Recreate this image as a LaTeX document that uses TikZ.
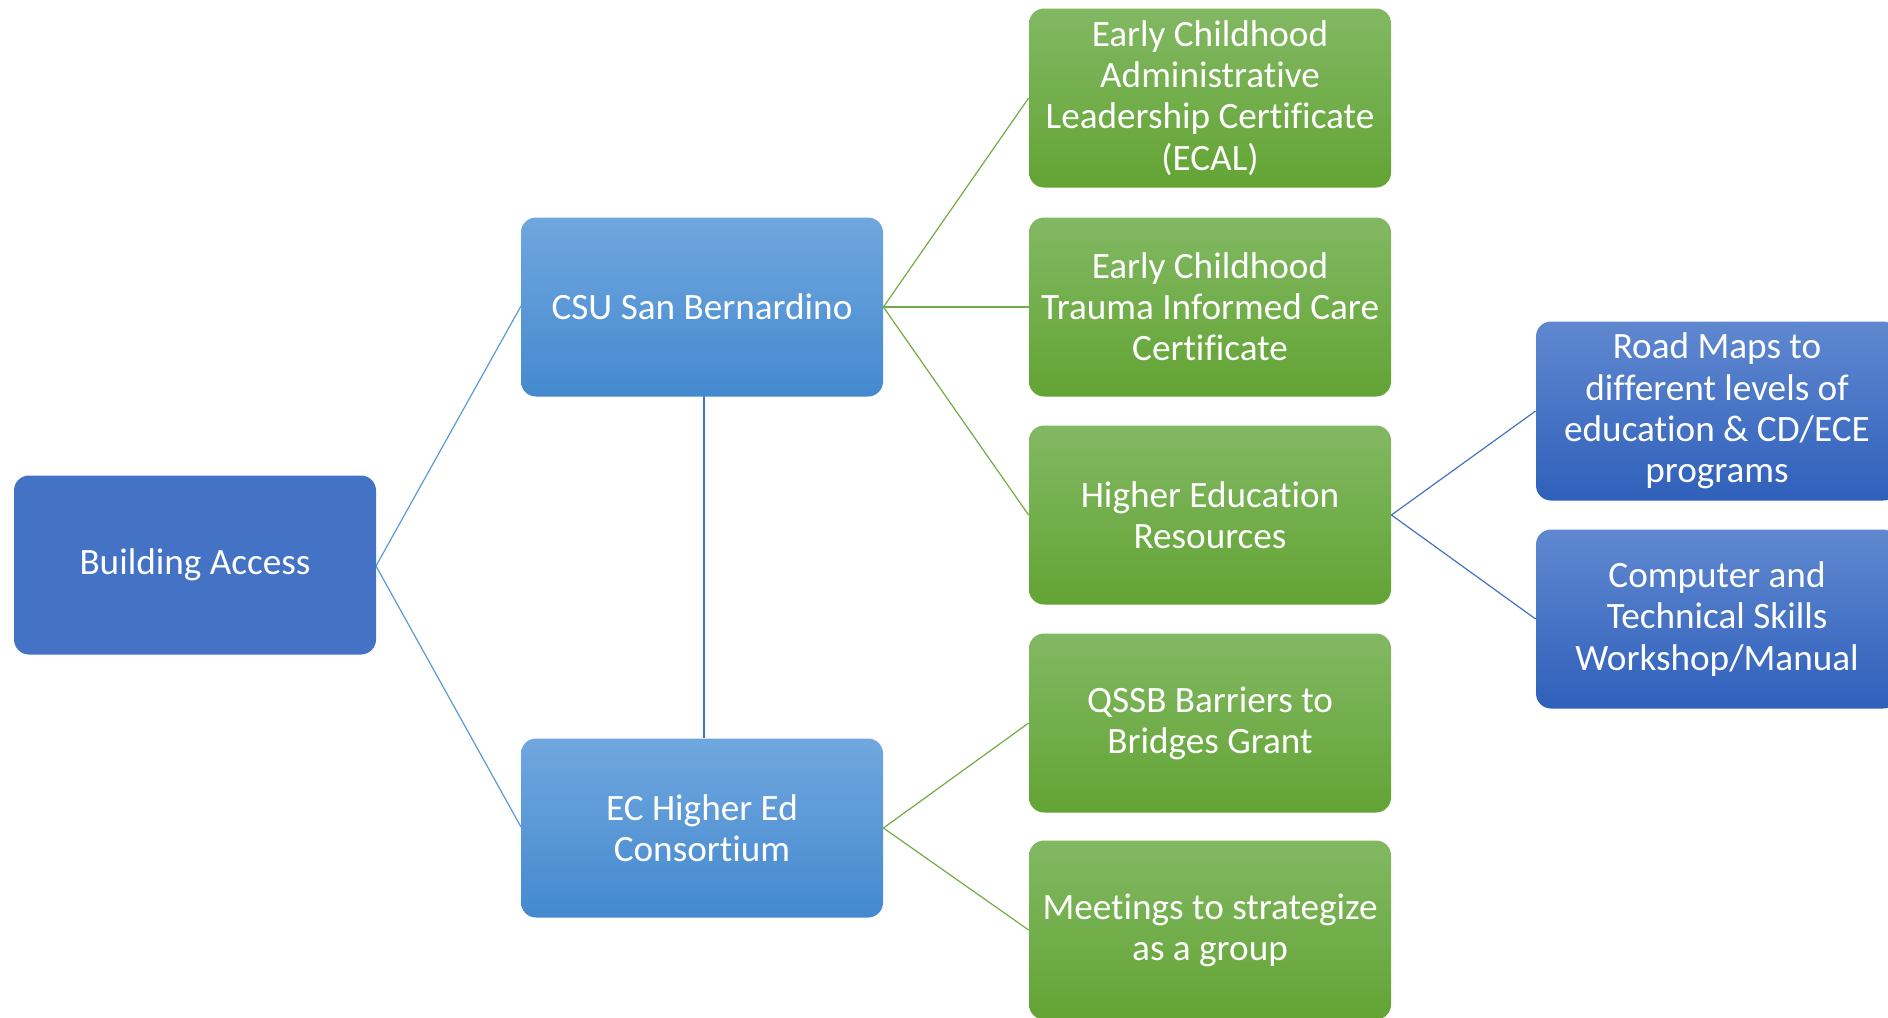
\documentclass[tikz,border=0pt]{standalone}
\usepackage{fontspec}
\setmainfont{Carlito}[Ligatures=NoCommon]
\usepackage{xcolor}
\usepackage{tikz}
\definecolor{rootblue}{HTML}{4472C4}
\definecolor{midtop}{HTML}{70A7DE}
\definecolor{midbot}{HTML}{4489CF}
\definecolor{greentop}{HTML}{82B863}
\definecolor{greenbot}{HTML}{63A434}
\definecolor{deeptop}{HTML}{6088D0}
\definecolor{deepbot}{HTML}{2F60BA}
\definecolor{linkblue}{HTML}{5B9BD5}
\definecolor{linkgreen}{HTML}{70AD47}
\definecolor{linkdeep}{HTML}{4472C4}
\tikzset{
  box/.style={rounded corners=7.5pt, minimum width=181pt, minimum height=89.5pt,
    align=center, text=white, font=\fontsize{18.6}{20.6}\selectfont, inner sep=2pt},
  root/.style={box, fill=rootblue},
  mid/.style={box, top color=midtop, bottom color=midbot},
  leaf/.style={box, top color=greentop, bottom color=greenbot},
  deep/.style={box, top color=deeptop, bottom color=deepbot},
  ln/.style={line width=0.6pt},
}
\begin{document}
\begin{tikzpicture}[x=0.5pt, y=-0.5pt]
  \clip (0,0) rectangle (1888,1017);
  \fill[white] (0,0) rectangle (1888,1017);
  % links first, boxes on top
  \coordinate (pbuild) at (376,566);
  \coordinate (pcsu) at (521,306);
  \coordinate (pec) at (521,827);
  \draw[ln, draw=linkblue] (pcsu) -- (pbuild) -- (pec);
  \draw[ln, draw=linkdeep] (704,380) -- (704,738);
  % boxes
  \node[root] (build) at (195,565) {Building Access};
  \node[mid] (csu) at (702,307) {CSU San Bernardino};
  \node[mid] (ec) at (702,828) {EC Higher Ed\\Consortium};
  \node[leaf] (ecal) at (1210,98) {Early Childhood\\Administrative\\Leadership Certificate\\(ECAL)};
  \node[leaf] (trauma) at (1210,307) {Early Childhood\\Trauma Informed Care\\Certificate};
  \node[leaf] (her) at (1210,515) {Higher Education\\Resources};
  \node[leaf] (qssb) at (1210,723) {QSSB Barriers to\\Bridges Grant};
  \node[leaf] (meet) at (1210,930) {Meetings to strategize\\as a group};
  \node[deep] (road) at (1717,411) {Road Maps to\\different levels of\\education \& CD/ECE\\programs};
  \node[deep] (comp) at (1717,619) {Computer and\\Technical Skills\\Workshop/Manual};
  \foreach \t in {ecal,trauma,her}
    \draw[ln, draw=linkgreen] (csu.east) -- (\t.west);
  \foreach \t in {qssb,meet}
    \draw[ln, draw=linkgreen] (ec.east) -- (\t.west);
  \foreach \t in {road,comp}
    \draw[ln, draw=linkdeep] (her.east) -- (\t.west);
\end{tikzpicture}
\end{document}
